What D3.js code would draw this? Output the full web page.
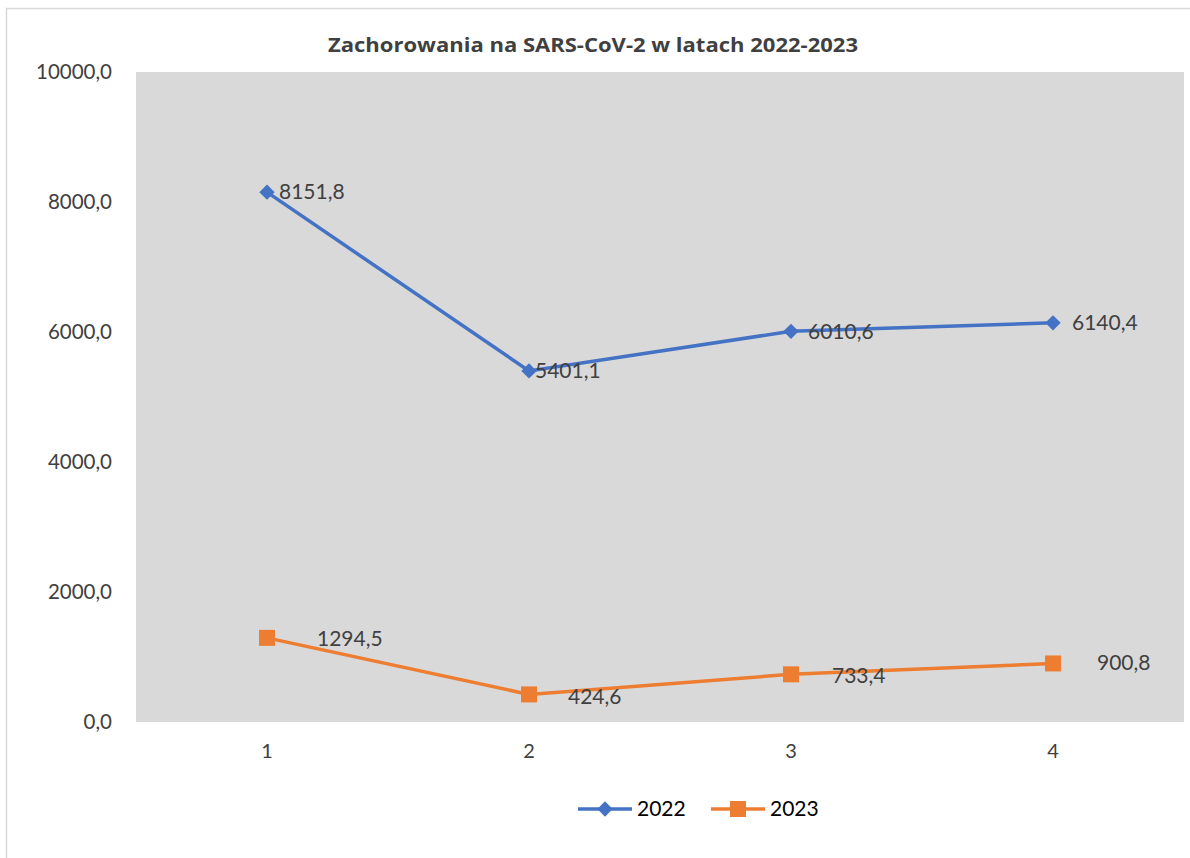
<!DOCTYPE html>
<html>
<head>
<meta charset="utf-8">
<script src="https://cdn.jsdelivr.net/npm/d3@7"></script>
<style>
  body { margin: 0; background: #fff; }
  svg text { font-family: Lato, "Open Sans", sans-serif; fill: #404040; }
</style>
</head>
<body>
<div id="chart"></div>
<script>
var categories = ["1", "2", "3", "4"];
var series2022 = [8151.8, 5401.1, 6010.6, 6140.4];
var series2023 = [1294.5, 424.6, 733.4, 900.8];
var yTicks = [0, 2000, 4000, 6000, 8000, 10000];
var seriesNames = ["2022", "2023"];

var size = { width: 1190, height: 858 };
var plot = { left: 136, right: 1184, top: 72, bottom: 722 };
var blue = "#4472c4";
var orange = "#ed7d31";

// label offsets (dx, dy)
var labelOffset2022 = [[12, 0], [6, 0], [17, 0], [19, 0]];
var labelOffset2023 = [[50, 1], [39, 2], [41, 1], [44, -1]];

var fmt = function(v) { return d3.format(".1f")(v).replace(".", ","); };

var svg = d3.select("#chart").append("svg")
    .attr("width", size.width)
    .attr("height", size.height);

// chart border (only left/top visible in the crop)
svg.append("rect")
    .attr("x", 6.5).attr("y", 8.5)
    .attr("width", 1200).attr("height", 900)
    .attr("fill", "none")
    .attr("stroke", "#d9d9d9")
    .attr("stroke-width", 1.5);

var x = d3.scaleBand()
    .domain(categories)
    .range([plot.left, plot.right]);

var y = d3.scaleLinear()
    .domain([0, 10000])
    .range([plot.bottom, plot.top]);

// plot area
svg.append("rect")
    .attr("x", plot.left).attr("y", plot.top)
    .attr("width", plot.right - plot.left)
    .attr("height", plot.bottom - plot.top)
    .attr("fill", "#d9d9d9");

// title
svg.append("text")
    .attr("x", 593).attr("y", 52)
    .attr("text-anchor", "middle")
    .attr("font-size", 20)
    .attr("font-weight", "bold")
    .style("font-family", "'Open Sans', sans-serif")
    .attr("textLength", 530)
    .attr("lengthAdjust", "spacingAndGlyphs")
    .text("Zachorowania na SARS-CoV-2 w latach 2022-2023");

// y axis
var yAxis = svg.append("g")
    .attr("transform", "translate(" + (plot.left - 21) + ",0)")
    .call(d3.axisLeft(y).tickValues(yTicks).tickFormat(fmt).tickSize(0));
yAxis.select(".domain").remove();
yAxis.selectAll("text")
    .attr("font-size", 20.5)
    .attr("fill", "#404040");

// x axis
var xAxis = svg.append("g")
    .attr("transform", "translate(0," + plot.bottom + ")")
    .call(d3.axisBottom(x).tickSize(0).tickPadding(22));
xAxis.select(".domain").remove();
xAxis.selectAll("text")
    .attr("font-size", 20)
    .attr("fill", "#404040");

var cx = function(d, i) { return x(categories[i]) + x.bandwidth() / 2; };

var line = d3.line()
    .x(cx)
    .y(function(d) { return y(d); });

function drawSeries(values, col, shape, offsets) {
    var g = svg.append("g");
    g.append("path")
        .datum(values)
        .attr("d", line)
        .attr("fill", "none")
        .attr("stroke", col)
        .attr("stroke-width", 3.5);

    g.selectAll(".m")
        .data(values)
        .enter()
        .append("path")
        .attr("transform", function(d, i) { return "translate(" + cx(d, i) + "," + y(d) + ")"; })
        .attr("d", shape)
        .attr("fill", col);

    g.selectAll(".lbl")
        .data(values)
        .enter()
        .append("text")
        .attr("x", function(d, i) { return cx(d, i) + offsets[i][0]; })
        .attr("y", function(d, i) { return y(d) + offsets[i][1]; })
        .attr("dy", "0.35em")
        .attr("font-size", 21)
        .text(fmt);
}

var diamond = d3.symbol().type(d3.symbolDiamond2).size(150)();
var square = d3.symbol().type(d3.symbolSquare).size(256)();

drawSeries(series2022, blue, diamond, labelOffset2022);
drawSeries(series2023, orange, square, labelOffset2023);

// legend
var legend = svg.append("g").attr("transform", "translate(0,809)");
var legendItems = [
    { name: seriesNames[0], col: blue, shape: diamond, x: 578 },
    { name: seriesNames[1], col: orange, shape: square, x: 711 }
];
legendItems.forEach(function(it) {
    legend.append("line")
        .attr("x1", it.x).attr("x2", it.x + 54)
        .attr("y1", 0).attr("y2", 0)
        .attr("stroke", it.col).attr("stroke-width", 3.5);
    legend.append("path")
        .attr("transform", "translate(" + (it.x + 27) + ",0)")
        .attr("d", it.shape)
        .attr("fill", it.col);
    legend.append("text")
        .attr("x", it.x + 59).attr("y", 0)
        .attr("dy", "0.35em")
        .attr("font-size", 21)
        .style("fill", "#000")
        .text(it.name);
});
</script>
</body>
</html>
